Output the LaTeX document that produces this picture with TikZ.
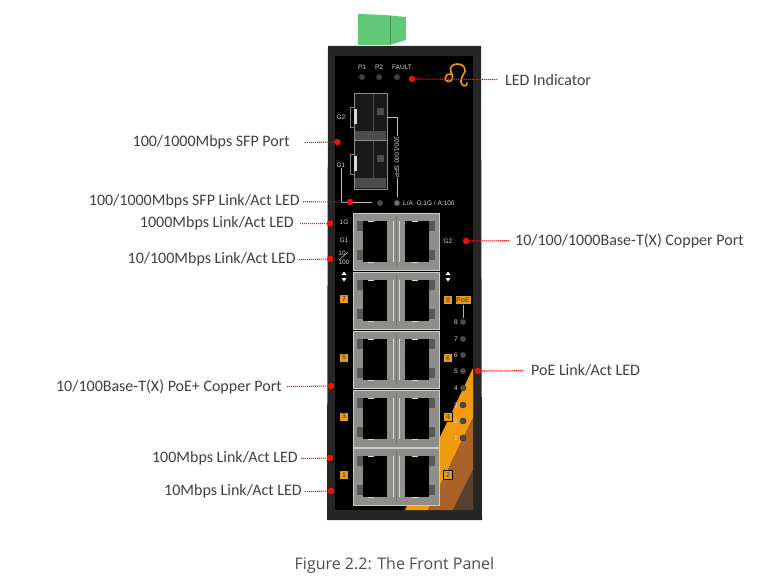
\documentclass[tikz,border=0pt]{standalone}
\usepackage{fontspec}
\setmainfont{Carlito}
\setsansfont{Liberation Sans}
\newfontfamily\capfont{Open Sans}
\definecolor{ledred}{HTML}{EE1111}
\definecolor{stripeor}{HTML}{F09A10}
\definecolor{stripebr}{HTML}{A8622A}
\definecolor{stripedk}{HTML}{59402F}
\definecolor{plugg}{HTML}{62C878}
\definecolor{bodyk}{HTML}{262624}
\definecolor{silver}{HTML}{8E8E8A}
\tikzset{
  lbl/.style={font=\fontsize{16}{16}\selectfont,text=black!75,inner sep=0pt,yshift=-0.7pt},
  dot/.style={circle,fill=ledred,inner sep=0pt,minimum size=6.5pt},
  lead/.style={ledred,line width=1.1pt,dash pattern=on 1.2pt off 0.8pt},
  tiny/.style={font=\sffamily\fontsize{6.5}{6.5}\selectfont,text=white!85!black,inner sep=0pt},
  numbox/.style={font=\sffamily\bfseries\fontsize{7}{7}\selectfont,fill=stripeor,text=black!65,draw=black,line width=0.3pt,inner sep=0pt,minimum size=9pt},
  led/.style={circle,fill=black!70,draw=black!85,line width=0.4pt,inner sep=0pt,minimum size=6pt}
}
\begin{document}
\begin{tikzpicture}[x=1pt,y=-1pt]
\useasboundingbox (0,0) rectangle (783,585);

% plug and housing
\fill[plugg] (358,14) -- (385,15) -- (406,17) -- (406,40) -- (390,45) -- (358,45) -- cycle;
\draw[plugg!75!black,line width=0.4pt] (390,16) -- (390,44);
\fill[bodyk] (328,46) -- (481,46) -- (482,520) -- (327,520) -- cycle;
\fill[black] (335,56) -- (473,56) -- (473,510) -- (335,510) -- cycle;

% stripes
\fill[stripeor] (473,368) -- (473,418) -- (428,510) -- (405,510) -- cycle;
\fill[stripebr] (473,418) -- (473,470) -- (453,510) -- (428,510) -- cycle;
\fill[stripedk] (473,470) -- (473,510) -- (453,510) -- cycle;

% logo
\draw[stripeor,line width=1.6pt,line cap=round] (451,74) .. controls (445,73) and (443,81) .. (448,81.5) .. controls (454,82) and (453,75) .. (451,72) .. controls (447,62) and (466,61) .. (465,71) .. controls (464,75) and (460,78) .. (461,82) .. controls (462,87) and (467,87) .. (467,83);

% top leds
\node[tiny] (p1) at (362,67) {P1};
\node[tiny] (p2) at (379,67) {P2};
\node[tiny] (fault) at (402,67) {FAULT};
\node[led,fill=black!75!white] (ledp1) at (362,77) {};
\node[led,fill=black!75!white] (ledp2) at (379,77) {};
\node[led,fill=black!75!white] (ledf) at (397,77) {};

% sfp cage
\foreach \y in {93,140} {
  \fill[black!90!white] (354,\y) rectangle (387,\y+49);
  \draw[silver,line width=0.7pt] (354,\y) rectangle (387,\y+49);
  \draw[black!70,line width=0.6pt] (373,\y+1) -- (373,\y+48);
  \fill[black!70] (355,\y+38) rectangle (386,\y+48);
  \fill[black!70] (377,\y+15) rectangle (384,\y+22);
  \draw[black!50,line width=0.5pt] (350,\y+14) -- (354,\y+14) -- (354,\y+34) -- (350,\y+34) -- cycle;
  \fill[white!85!black] (354,\y+16) rectangle (356.5,\y+31);
}
\node[tiny] (g2sfp) at (341,117) {G2};
\node[tiny] (g1sfp) at (341,165) {G1};
\node[tiny,rotate=-90] (sfptxt) at (397,157) {100/1000 SFP};
\draw[white!75!black,line width=0.5pt] (387,117) -- (397,117) -- (sfptxt.west);
\draw[white!75!black,line width=0.5pt] (sfptxt.east) -- (397,197);
\node[led] (ledg) at (380,203) {};
\node[led,fill=black!55!white] (leda) at (397,203) {};
\draw[white!75!black,line width=0.5pt] (g1sfp.south) -- (341,202) -- (372,202);
\node[tiny,anchor=west] (latxt) at (403,203) {L/A\ \ G:1G / A:100};

% copper ports
\foreach \y in {213,272,331,390,448} {
  \fill[silver] (353,\y) rectangle (439,\y+57);
  \draw[white!80!black,line width=0.7pt] (353,\y) rectangle (439,\y+57);
  \fill[black] (363,\y+8) rectangle (387,\y+49);
  \fill[black] (405,\y+8) rectangle (429,\y+49);
  \fill[black!65] (357,\y+8) rectangle (363,\y+18);
  \fill[black!65] (357,\y+37) rectangle (363,\y+47);
  \fill[black!65] (429,\y+8) rectangle (435,\y+18);
  \fill[black!65] (429,\y+37) rectangle (435,\y+47);
  \draw[white!85!black,line width=0.6pt] (393,\y+8) -- (393,\y+49);
  \draw[white!85!black,line width=0.6pt] (399,\y+8) -- (399,\y+49);
  \draw[black!55,line width=0.4pt] (396,\y+3) -- (396,\y+54);
  \draw[white!85!black,line width=0.6pt] (368,\y+8) -- (374,\y+8) (412,\y+8) -- (418,\y+8) (368,\y+49) -- (374,\y+49) (412,\y+49) -- (418,\y+49);
}

% panel marks
\node[tiny] (t1g) at (344,222) {1G};
\node[tiny] (tg1) at (344,240) {G1};
\node[tiny] (tg2) at (448,241) {G2};
\node[tiny] (t10) at (342,253) {10};
\node[tiny] (t100) at (344,262) {100};
\draw[white,line width=0.4pt] (339,260) -- (348,252);
\foreach \x in {344,448} {
  \fill[white] (\x-2.5,275) -- (\x+2.5,275) -- (\x,271.5) -- cycle;
  \fill[white] (\x-2.5,278) -- (\x+2.5,278) -- (\x,281.5) -- cycle;
}
\node[numbox] (n7) at (344,299) {7};
\node[numbox] (n8) at (448,300) {8};
\node[numbox] (n5) at (344,357.5) {5};
\node[numbox] (n6) at (448,358) {6};
\node[numbox] (n3) at (344,416.5) {3};
\node[numbox] (n4) at (448,417) {4};
\node[numbox] (n1) at (344,475) {1};
\node[numbox] (n2) at (448,475) {2};
\node[numbox,minimum width=16pt] (poe) at (463,300) {PoE};
\draw[white!70!black,line width=0.5pt] (poe.south) -- (463,318);
\foreach \i/\y in {8/322,7/339,6/355,5/371,4/388,3/405,2/421,1/438} {
  \node[tiny] (num\i) at (456,\y) {\i};
  \node[led] (poe\i) at (463,\y) {};
}

% callouts
\node[lbl,anchor=west] (ledlbl) at (505,79) {LED Indicator};
\node[lbl,anchor=east] (sfplbl) at (290,142) {100/1000Mbps SFP Port};
\node[lbl,anchor=east] (sfpledlbl) at (300,201) {100/1000Mbps SFP Link/Act LED};
\node[lbl,anchor=east] (gledlbl) at (294,223) {1000Mbps Link/Act LED};
\node[lbl,anchor=east] (mledlbl) at (296,259) {10/100Mbps Link/Act LED};
\node[lbl,anchor=west] (g2lbl) at (515,240) {10/100/1000Base-T(X) Copper Port};
\node[lbl,anchor=west] (poelbl) at (531,370) {PoE Link/Act LED};
\node[lbl,anchor=east] (cuplbl) at (282,386) {10/100Base-T(X) PoE+ Copper Port};
\node[lbl,anchor=east] (l100lbl) at (298,458) {100Mbps Link/Act LED};
\node[lbl,anchor=east] (l10lbl) at (302,491) {10Mbps Link/Act LED};

\node[dot] (dled) at (412,79) {};
\node[dot] (dsfp) at (337.5,142) {};
\node[dot] (dsfpled) at (350,202) {};
\node[dot] (dgled) at (330,223.5) {};
\node[dot] (dmled) at (330,259) {};
\node[dot] (dg2) at (466,241) {};
\node[dot] (dpoe) at (478,371) {};
\node[dot] (dcup) at (331,386) {};
\node[dot] (dl100) at (330,458) {};
\node[dot] (dl10) at (331,491) {};

\draw[lead,shorten <=8pt] (ledlbl.west) -- (dled);
\draw[lead,shorten <=15pt] (sfplbl.east) -- (dsfp);
\draw[lead,shorten <=3pt] (sfpledlbl.east) -- (dsfpled);
\draw[lead,shorten <=6pt] (gledlbl.east) -- (dgled);
\draw[lead,shorten <=3pt] (mledlbl.east) -- (dmled);
\draw[lead,shorten <=6pt] (g2lbl.west) -- (dg2);
\draw[lead,shorten <=8pt] (poelbl.west) -- (dpoe);
\draw[lead,shorten <=5pt] (cuplbl.east) -- (dcup);
\draw[lead,shorten <=3pt] (l100lbl.east) -- (dl100);
\draw[lead,shorten <=3pt] (l10lbl.east) -- (dl10);

\node[lbl,font=\capfont\fontsize{16}{16}\selectfont,text=black!70] (caption) at (394.5,564.5) {Figure 2.2: The Front Panel};
\end{tikzpicture}
\end{document}
